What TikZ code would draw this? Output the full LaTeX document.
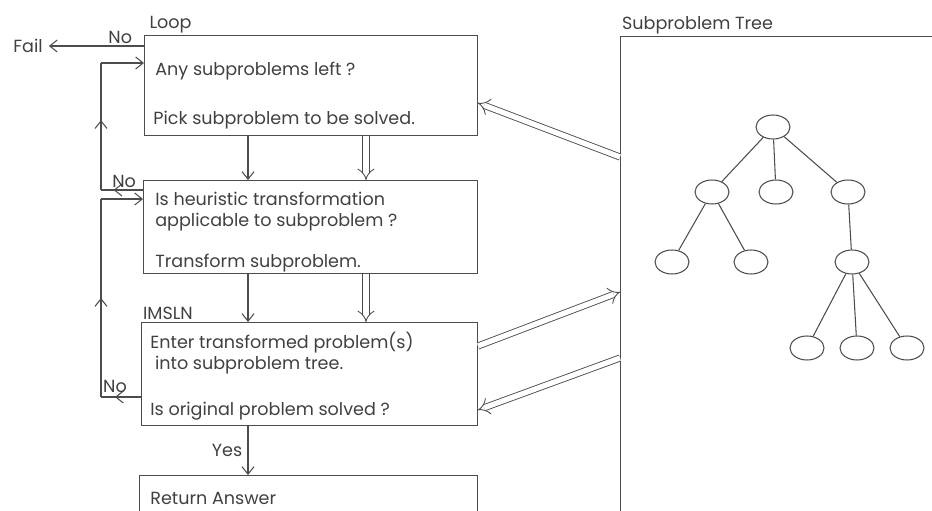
\documentclass[tikz,border=0pt]{standalone}
\usepackage{fontspec}
\setmainfont{Poppins}
\usetikzlibrary{arrows.meta,positioning,shapes.geometric,calc,decorations.markings}

\begin{document}
\begin{tikzpicture}[
  x=0.02cm, y=-0.02cm,
  font=\fontsize{10}{12}\selectfont,
  every node/.style={text=black!75},
  stepbox/.style={
    draw=black!70, line width=0.6pt, anchor=north west, inner sep=0pt
  },
  txt/.style={anchor=west, align=left, inner sep=0pt},
  leaf/.style={
    draw=black!70, line width=0.6pt, ellipse,
    minimum width=0.68cm, minimum height=0.48cm, inner sep=0pt
  },
  tl/.style={draw=black!70, line width=0.6pt},
  arr/.style={-{Straight Barb[length=1.5mm,width=2.4mm]}, tl},
  midarr/.style={tl, postaction={decorate}, decoration={markings,
    mark=at position #1 with {\arrow{Straight Barb[length=1.5mm,width=2.4mm]}}}},
  dbl/.style={draw=black!70, line width=0.5pt, double=white,
    double distance=3pt, -{Implies[scale=1.6]}}
]
\useasboundingbox (0,0) rectangle (932,510);
\clip (0,0) rectangle (932,510);

% Loop box
\node[stepbox, minimum width=6.66cm, minimum height=2.0cm] (loop) at (144,35) {};
\node[above right=0pt and 2pt of loop.north west, inner sep=1pt] (looplbl) {Loop};
\node[txt] (any) at (155,71) {Any subproblems left ?};
\node[txt] (pick) at (153,120) {Pick subproblem to be solved.};

% Heuristic box
\node[stepbox, minimum width=6.68cm, minimum height=1.86cm] (heur) at (143,180) {};
\node[txt] (isheur) at (155,212) {Is heuristic transformation\\applicable to subproblem ?};
\node[txt] (trans) at (155,263) {Transform subproblem.};

% IMSLN box
\node[stepbox, minimum width=6.72cm, minimum height=2.06cm] (imsln) at (141,322) {};
\node[above right=0pt of imsln.north west, inner sep=1pt] (imslnlbl) {IMSLN};
\node[txt] (enter) at (150,353) {Enter transformed problem(s)\\\ into subproblem tree.};
\node[txt] (orig) at (150,411) {Is original problem solved ?};

% Return box
\node[stepbox, minimum width=6.76cm, minimum height=1.0cm] (ret) at (139,475) {};
\node[txt] (answer) at (150,498) {Return Answer};

% Subproblem tree panel
\node[stepbox, minimum width=6.5cm, minimum height=9.8cm] (tree) at (620,36) {};
\node[above right=0pt of tree.north west, inner sep=1pt] (treelbl) {Subproblem Tree};

\node[leaf] (r) at (773,127) {};
\node[leaf] (a) at (712,192) {};
\node[leaf] (b) at (776,192) {};
\node[leaf] (c) at (848,192) {};
\node[leaf] (a1) at (672,262) {};
\node[leaf] (a2) at (751,262) {};
\node[leaf] (c1) at (852,262) {};
\node[leaf] (c11) at (807,348) {};
\node[leaf] (c12) at (857,348) {};
\node[leaf] (c13) at (907,348) {};
\foreach \p/\q in {r/a, r/b, r/c, a/a1, a/a2, c/c1, c1/c11, c1/c12, c1/c13}
  \draw[tl] (\p) -- (\q);

% Fail exit
\node (fail) at (28,46) {Fail};
\draw[arr] ($(loop.north west)+(0,11)$) -- node[pos=0.25, above, inner sep=1pt] {No} (fail.east);

% Down arrows
\coordinate (sx) at (248,0);
\coordinate (dx) at (366,0);
\draw[arr] (loop.south -| sx) -- (heur.north -| sx);
\draw[dbl] (loop.south -| dx) -- (heur.north -| dx);
\draw[arr] (heur.south -| sx) -- (imsln.north -| sx);
\draw[dbl] (heur.south -| dx) -- (imsln.north -| dx);
\draw[arr] (imsln.south -| sx) -- node[left, inner sep=3pt] {Yes} (ret.north -| sx);

% Back loops
\coordinate (lx) at (101,0);
\coordinate (o1) at ($(heur.north west)+(0,10)$);
\coordinate (i1) at ($(loop.north west)+(0,28)$);
\draw[midarr=0.7] (o1) -- node[pos=0.45, above, inner sep=1pt] {No} (o1 -| lx);
\draw[midarr=0.55] (o1 -| lx) -- (i1 -| lx);
\draw[arr] (i1 -| lx) -- (i1);

\coordinate (o2) at ($(imsln.north west)+(0,75)$);
\coordinate (i2) at ($(heur.north west)+(0,19)$);
\draw[midarr=0.65] (o2) -- node[pos=0.65, above, inner sep=2pt] {No} (o2 -| lx);
\draw[midarr=0.5] (o2 -| lx) -- (i2 -| lx);
\draw[arr] (i2 -| lx) -- (i2);

% Tree links
\draw[dbl] ($(tree.north west)+(0,121)$) -- ($(loop.north east)+(0,68)$);
\draw[dbl] ($(imsln.north east)+(0,24)$) -- ($(tree.north west)+(0,256)$);
\draw[dbl] ($(tree.north west)+(0,322)$) -- ($(imsln.north east)+(0,88)$);

\end{tikzpicture}
\end{document}
